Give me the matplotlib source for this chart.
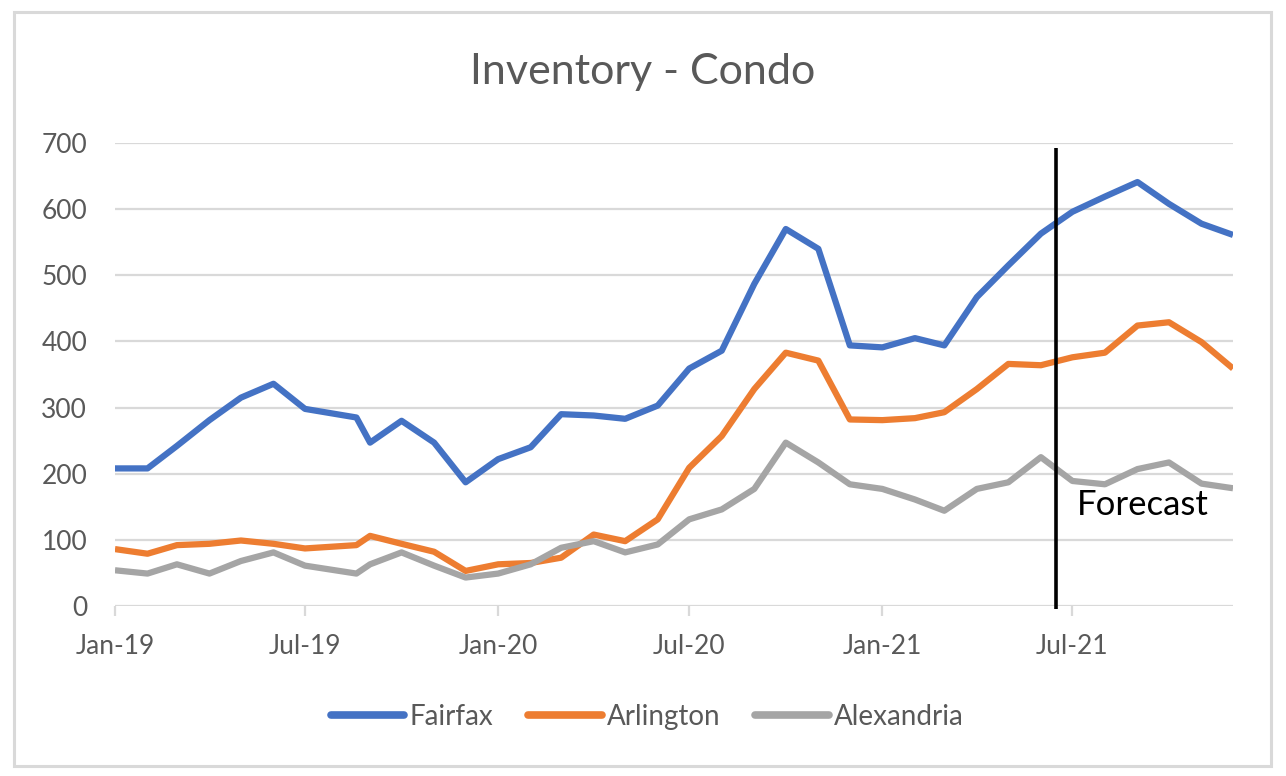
import matplotlib
matplotlib.use("Agg")
import matplotlib.pyplot as plt
import matplotlib.dates as mdates
import pandas as pd
from matplotlib.patches import Rectangle

plt.rcParams["font.family"] = ["Lato", "DejaVu Sans"]

# monthly dates (one Aug-19 reading was taken late in the month)
dates = pd.to_datetime([
    "2019-01-01", "2019-02-01", "2019-03-01", "2019-04-01", "2019-05-01", "2019-06-01",
    "2019-07-01", "2019-08-19", "2019-09-01", "2019-10-01", "2019-11-01", "2019-12-01",
    "2020-01-01", "2020-02-01", "2020-03-01", "2020-04-01", "2020-05-01", "2020-06-01",
    "2020-07-01", "2020-08-01", "2020-09-01", "2020-10-01", "2020-11-01", "2020-12-01",
    "2021-01-01", "2021-02-01", "2021-03-01", "2021-04-01", "2021-05-01", "2021-06-01",
    "2021-07-01", "2021-08-01", "2021-09-01", "2021-10-01", "2021-11-01", "2021-12-01",
])

fairfax = [208, 208, 242, 281, 315, 336, 298, 285, 247, 280, 247, 187,
           222, 240, 290, 288, 283, 303, 359, 386, 487, 570, 540, 394,
           391, 405, 394, 467, 515, 563, 596, 619, 641, 608, 578, 561]
arlington = [86, 79, 92, 94, 99, 94, 87, 92, 106, 94, 82, 53,
             63, 65, 73, 108, 98, 131, 209, 257, 328, 383, 371, 282,
             281, 284, 293, 328, 366, 364, 376, 383, 424, 429, 399, 359]
alexandria = [54, 49, 63, 49, 68, 81, 61, 49, 63, 81, 61, 43,
              49, 63, 88, 98, 81, 93, 131, 146, 177, 247, 217, 184,
              177, 161, 144, 177, 187, 225, 189, 184, 207, 217, 185, 178]

series = [("Fairfax", fairfax, "#4472C4"),
          ("Arlington", arlington, "#ED7D31"),
          ("Alexandria", alexandria, "#A5A5A5")]

forecast_start = pd.Timestamp("2021-06-15")

fig = plt.figure(figsize=(12.86, 7.76), dpi=100)
ax = fig.add_axes([0.0894, 0.2191, 0.8694, 0.5966])

for name, vals, color in series:
    ax.plot(dates, vals, color=color, lw=4.5, label=name, solid_joinstyle="round",
            solid_capstyle="butt", zorder=3)

ax.vlines(forecast_start, -4, 692, color="black", lw=2.6, zorder=4, clip_on=False)
ax.text(pd.Timestamp("2021-07-05"), 152, "Forecast", fontsize=25, color="black",
        va="center", ha="left", zorder=5)

ax.set_xlim(dates[0], dates[-1])
ax.set_ylim(0, 700)
ax.set_yticks(range(0, 701, 100))
ax.yaxis.grid(True, color="#D9D9D9", lw=1.6)
ax.set_axisbelow(True)
for s in ax.spines.values():
    s.set_visible(False)

ax.xaxis.set_major_locator(mdates.MonthLocator(bymonth=[1, 7]))
ax.xaxis.set_major_formatter(mdates.DateFormatter("%b-%y"))
ax.tick_params(axis="x", colors="#D9D9D9", length=7, width=1.6, pad=13,
               labelcolor="#595959", labelsize=19)
ax.tick_params(axis="y", length=0, pad=20, labelcolor="#595959", labelsize=19)

fig.text(0.5, 0.907, "Inventory - Condo", fontsize=31, color="#595959",
         ha="center", va="center")

leg = ax.legend(loc="center", bbox_to_anchor=(0.476, -0.24), ncol=3, frameon=False,
                fontsize=20, handlelength=2.66, handletextpad=0.18, columnspacing=1.25,
                labelcolor="#595959")
for line in leg.get_lines():
    line.set_linewidth(5.5)
    line.set_solid_capstyle("round")

fig.patches.append(Rectangle((14 / 1286, 10 / 776), 1257 / 1286, 754 / 776,
                             transform=fig.transFigure, fill=False,
                             edgecolor="#D9D9D9", lw=2.2))

fig.savefig("out.png", dpi=100)
